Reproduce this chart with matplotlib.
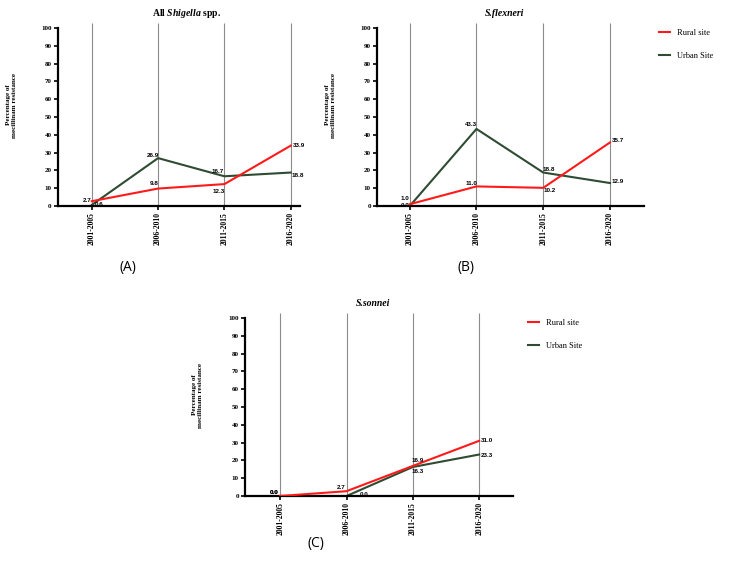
import matplotlib
matplotlib.use("Agg")
import matplotlib.pyplot as plt

plt.rcParams["font.family"] = ["Liberation Serif", "DejaVu Serif"]
plt.rcParams["mathtext.fontset"] = "custom"
plt.rcParams["mathtext.rm"] = "Liberation Serif:bold"
plt.rcParams["mathtext.it"] = "Liberation Serif:italic:bold"

# data
periods = ["2001-2005", "2006-2010", "2011-2015", "2016-2020"]

all_rural = [2.7, 9.8, 12.3, 33.9]
all_urban = [0.6, 26.9, 16.7, 18.8]

flex_rural = [1.0, 11.0, 10.2, 35.7]
flex_urban = [0.0, 43.3, 18.8, 12.9]

sonnei_rural = [0.0, 2.7, 16.9, 31.0]
sonnei_urban = [0.0, 0.0, 16.3, 23.3]

series_names = ["Rural site", "Urban Site"]

# label offsets in pixels (dx, dy) from each point
off_all_rural = [(-5, 1), (-4, 5), (-6, -7), (8, 0)]
off_all_urban = [(7, 0), (-5, 3), (-7, 5), (7, -3)]
off_flex_rural = [(-5, 6), (-5, 3), (6, -3), (8, 2)]
off_flex_urban = [(-5, 1), (-5, 4), (6, 3), (8, 2)]
off_son_rural = [(-6, 4), (-5, 4), (5, 5), (8, 0)]
off_son_urban = [(-6, 4), (18, 2), (5, -5), (8, -1)]

RED = "#ff1a1a"
GREEN = "#2f4b32"

fig = plt.figure(figsize=(7.5, 5.63), dpi=100)


def draw_panel(rect, xlim, rural, urban, off_r, off_u, title, title_x, ylab_x, legend=False):
    ax = fig.add_axes(rect)
    x = list(range(len(periods)))
    ax.vlines(x, 0, 103, color="#8c8c8c", lw=0.8, clip_on=False, zorder=1)
    ax.plot(x, rural, color=RED, lw=1.5, label=series_names[0], zorder=3)
    ax.plot(x, urban, color=GREEN, lw=1.5, label=series_names[1], zorder=2)
    for vals, offs in ((rural, off_r), (urban, off_u)):
        for xi, v, (dx, dy) in zip(x, vals, offs):
            ax.annotate(f"{v:.1f}", (xi, v), xytext=(dx, dy), textcoords="offset pixels",
                        ha="center", va="center", fontsize=4.5, fontweight="bold",
                        family="Liberation Sans")
    ax.set_xlim(*xlim)
    ax.set_ylim(0, 100)
    ax.set_yticks(range(0, 101, 10))
    ax.set_xticks(x)
    ax.set_xticklabels(periods, rotation=90, fontsize=5.5, fontweight="bold")
    for lab in ax.get_yticklabels():
        lab.set_fontsize(5)
        lab.set_fontweight("bold")
    ax.tick_params(axis="both", direction="out", length=3, width=1.2, pad=1.5)
    for s in ("top", "right"):
        ax.spines[s].set_visible(False)
    for s in ("left", "bottom"):
        ax.spines[s].set_linewidth(1.6)
    ax.set_ylabel("Percentage of\nmecillinam resistance", fontsize=5, fontweight="bold")
    ax.yaxis.set_label_coords(ylab_x, 0.567)
    ax.text(title_x, 1.084, title, transform=ax.transAxes, ha="center", va="center",
            fontsize=7, fontweight="bold", style="italic" if "$" not in title else "normal")
    if legend:
        ax.legend(loc="upper left", bbox_to_anchor=(1.056, 0.994), frameon=False,
                  fontsize=6, handlelength=1.3, handletextpad=0.9, labelspacing=1.75,
                  borderpad=0, borderaxespad=0)
    return ax


draw_panel([0.0773, 0.6341, 0.3227, 0.3162], (-0.51, 3.14), all_rural, all_urban,
           off_all_rural, off_all_urban, r"All $\mathit{Shigella}$ spp.", 0.533, -0.17)
draw_panel([0.5027, 0.6341, 0.356, 0.3162], (-0.49, 3.51), flex_rural, flex_urban,
           off_flex_rural, off_flex_urban, "S.flexneri", 0.479, -0.154, legend=True)
draw_panel([0.3267, 0.119, 0.3573, 0.3162], (-0.53, 3.51), sonnei_rural, sonnei_urban,
           off_son_rural, off_son_urban, "S.sonnei", 0.478, -0.157, legend=True)

for lbl, px, py in (("(A)", 128, 268), ("(B)", 466, 268), ("(C)", 316, 544)):
    fig.text(px / 750, 1 - py / 563, lbl, ha="center", va="center", fontsize=10,
             family="Open Sans")

fig.savefig("out.png", dpi=100)
